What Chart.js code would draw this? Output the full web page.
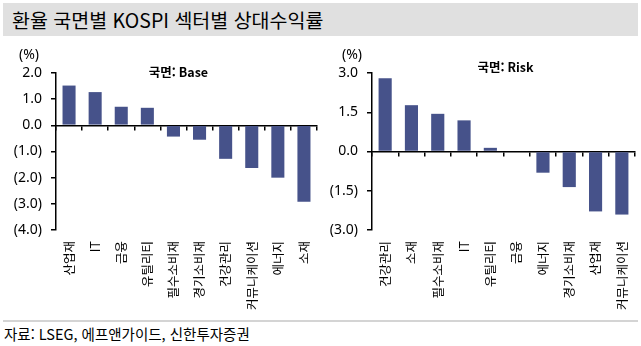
<!DOCTYPE html>
<html lang="ko">
<head>
<meta charset="utf-8">
<script src="https://cdn.jsdelivr.net/npm/chart.js@4.4.1/dist/chart.umd.min.js"></script>
<style>
    html, body { margin: 0; padding: 0; background: #fff; }
    body { width: 641px; height: 346px; position: relative; overflow: hidden; font-family: "Noto Sans CJK KR", sans-serif; color: #000; }
    .title-bar { position: absolute; left: 3px; top: 3px; width: 635px; height: 33px; background: #e0e0e0; }
    .title-bar span { position: absolute; left: 9px; top: 2px; font-size: 19.5px; white-space: nowrap; }
    .panel { position: absolute; top: 38px; height: 282px; }
    #leftPanel { left: 0; width: 322px; }
    #rightPanel { left: 322px; width: 319px; }
    .footer-line { position: absolute; left: 3px; right: 3px; top: 320px; height: 2px; background: #d4d4d4; }
    .footer { position: absolute; left: 4px; top: 323px; font-size: 14.5px; white-space: nowrap; }
</style>
</head>
<body>
<div class="title-bar"><span>환율 국면별 KOSPI 섹터별 상대수익률</span></div>
<div class="panel" id="leftPanel"><canvas id="baseChart"></canvas></div>
<div class="panel" id="rightPanel"><canvas id="riskChart"></canvas></div>
<div class="footer-line"></div>
<div class="footer">자료: LSEG, 에프앤가이드, 신한투자증권</div>

<script>
// Data
const baseSectors = ['산업재', 'IT', '금융', '유틸리티', '필수소비재', '경기소비재', '건강관리', '커뮤니케이션', '에너지', '소재'];
const baseReturns = [1.52, 1.27, 0.71, 0.67, -0.43, -0.55, -1.28, -1.63, -2.0, -2.92];
const baseAxis = [-4, 2, 1]; // min, max, step

const riskSectors = ['건강관리', '소재', '필수소비재', 'IT', '유틸리티', '금융', '에너지', '경기소비재', '산업재', '커뮤니케이션'];
const riskReturns = [2.80, 1.77, 1.44, 1.19, 0.14, 0.0, -0.81, -1.36, -2.29, -2.41];
const riskAxis = [-3, 3, 1.5];

const BAR_COLOR = '#46528a';

// Unit label and panel title drawn above the plot
const panelText = {
    id: 'panelText',
    afterDraw(chart, args, opts) {
        const { ctx, chartArea } = chart;
        ctx.save();
        ctx.fillStyle = '#000';
        ctx.textAlign = 'center';
        ctx.textBaseline = 'middle';
        ctx.font = '14px "Noto Sans", sans-serif';
        ctx.fillText('(%)', opts.unitX, chartArea.top - 18);
        ctx.font = 'bold 12.5px "Noto Sans CJK KR", sans-serif';
        ctx.fillText(opts.title, (chartArea.left + chartArea.right) / 2 + opts.titleDx, chartArea.top + opts.titleDy);
        ctx.restore();
    }
};

function formatTick(value) {
    const v = Math.abs(value).toFixed(1);
    return value < 0 ? `(${v})` : v;
}

function makeChart(id, labels, values, axis, options) {
    const ctx = document.getElementById(id);
    return new Chart(ctx, {
        type: 'bar',
        data: {
            labels: labels,
            datasets: [{
                data: values,
                backgroundColor: BAR_COLOR,
                borderWidth: 0,
                barPercentage: 0.5,
                categoryPercentage: 1.0
            }]
        },
        options: {
            responsive: true,
            maintainAspectRatio: false,
            animation: false,
            layout: { padding: options.padding },
            plugins: {
                legend: { display: false },
                tooltip: { enabled: false },
                panelText: options.text
            },
            scales: {
                x: {
                    position: 'bottom',
                    grid: { display: false },
                    border: { display: false },
                    ticks: {
                        autoSkip: false,
                        minRotation: 90,
                        maxRotation: 90,
                        padding: 3,
                        color: '#000',
                        font: { family: '"Noto Sans CJK KR", sans-serif', size: 12.5 }
                    },
                    afterFit: (scale) => { scale.height = 90; }
                },
                // zero line with category tick marks
                x2: {
                    axis: 'x',
                    type: 'category',
                    position: { y: 0 },
                    offset: true,
                    grid: { offset: true, drawOnChartArea: false, drawTicks: true, tickLength: 4, color: '#000', lineWidth: 1.5 },
                    border: { display: true, color: '#000', width: 1.5 },
                    ticks: { display: false }
                },
                y: {
                    min: axis[0],
                    max: axis[1],
                    grid: { drawOnChartArea: false, drawTicks: true, tickLength: 5, color: '#000', lineWidth: 1.5 },
                    border: { display: true, color: '#000', width: 1.5 },
                    ticks: {
                        stepSize: axis[2],
                        padding: 9,
                        color: '#000',
                        font: { family: '"Noto Sans", sans-serif', size: 14 },
                        callback: formatTick
                    },
                    afterFit: (scale) => { scale.width = options.yWidth; }
                }
            }
        },
        plugins: [panelText]
    });
}

makeChart('baseChart', baseSectors, baseReturns, baseAxis, {
    padding: { left: 10, right: 1, top: 35, bottom: 0 },
    yWidth: 46,
    text: { title: '국면: Base', unitX: 29, titleDx: -8, titleDy: -1 }
});

makeChart('riskChart', riskSectors, riskReturns, riskAxis, {
    padding: { left: 6, right: 6, top: 35, bottom: 0 },
    yWidth: 44,
    text: { title: '국면: Risk', unitX: 30, titleDx: 2, titleDy: -6 }
});
</script>
</body>
</html>
